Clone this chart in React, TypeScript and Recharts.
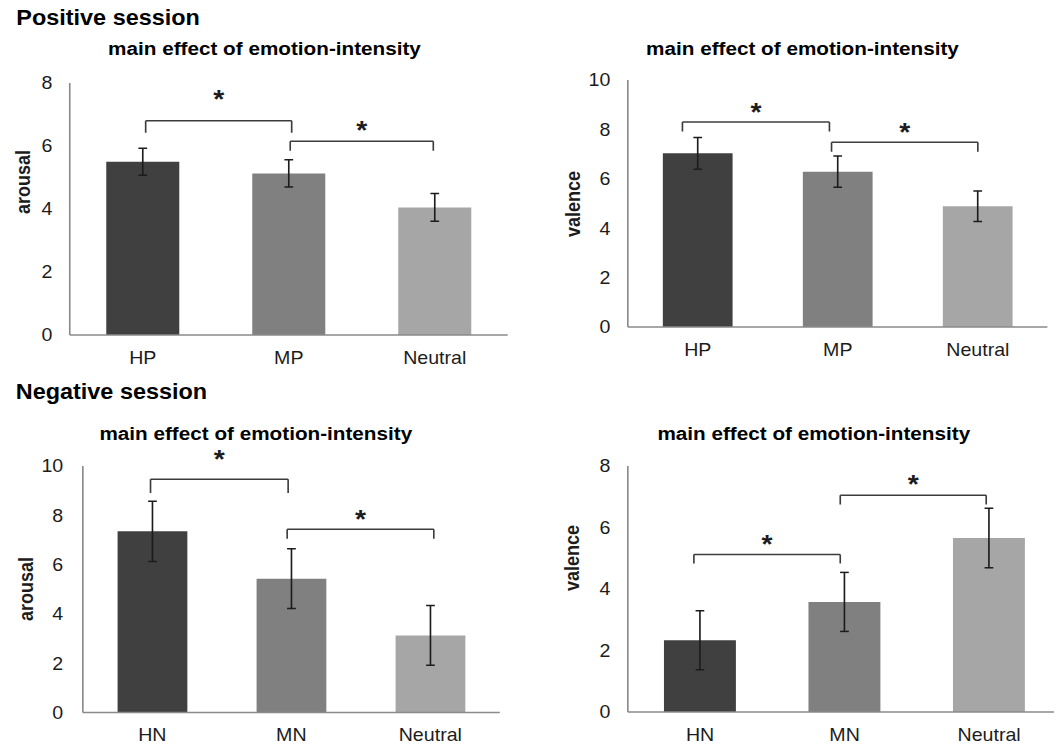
import { BarChart, Bar, XAxis, YAxis, ErrorBar, Cell, ReferenceLine, ReferenceDot } from 'recharts'

// the source figure is stretched sideways a little, so the page is drawn narrow and scaled
const SX = 1.09
const FONT = '"Liberation Sans", Arial, Helvetica, sans-serif'
const BAR_COLORS = ['#404040', '#808080', '#a6a6a6']
const AXIS_COLOR = '#8a8a8a'
const INK = '#1c1c1c'
const BRACKET_COLOR = '#3c3c3c'

const positiveConditions = ['HP', 'MP', 'Neutral']
const negativeConditions = ['HN', 'MN', 'Neutral']

const posArousalMean = [5.5, 5.13, 4.05]
const posArousalErr = [0.43, 0.43, 0.44]
const posValenceMean = [7.03, 6.29, 4.89]
const posValenceErr = [0.64, 0.63, 0.62]
const negArousalMean = [7.35, 5.43, 3.13]
const negArousalErr = [1.22, 1.21, 1.21]
const negValenceMean = [2.33, 3.58, 5.66]
const negValenceErr = [0.96, 0.96, 0.97]

const ticksTo8 = [0, 2, 4, 6, 8]
const ticksTo10 = [0, 2, 4, 6, 8, 10]

// significance brackets: from/to on a 0..3 category scale, top/foot/star in data units
type Bracket = { from: number; to: number; top: number; foot: number; star: number }

const posArousalBrackets: Bracket[] = [
  { from: 0.52, to: 1.52, top: 6.8, foot: 6.42, star: 7.67 },
  { from: 1.51, to: 2.49, top: 6.15, foot: 5.85, star: 6.67 },
]
const posValenceBrackets: Bracket[] = [
  { from: 0.39, to: 1.44, top: 8.3, foot: 7.91, star: 8.92 },
  { from: 1.455, to: 2.5, top: 7.48, foot: 7.1, star: 8.11 },
]
const negArousalBrackets: Bracket[] = [
  { from: 0.487, to: 1.477, top: 9.46, foot: 8.9, star: 10.5 },
  { from: 1.47, to: 2.525, top: 7.43, foot: 7.05, star: 8.07 },
]
const negValenceBrackets: Bracket[] = [
  { from: 0.457, to: 1.47, top: 5.12, foot: 4.83, star: 5.64 },
  { from: 1.47, to: 2.48, top: 7.05, foot: 6.75, star: 7.59 },
]

const Y_W = 40
const M_TOP = 40
const X_H = 40

type Box = { left: number; right: number; top: number; bottom: number }

interface PanelProps {
  names: string[]
  means: number[]
  errs: number[]
  ticks: number[]
  brackets: Bracket[]
  box: Box
  tickGap: number
}

function Star(props: any) {
  return (
    <text x={props.cx} y={props.cy + 14.5} textAnchor="middle" fontSize={26} fontWeight="bold" fill={INK}>
      *
    </text>
  )
}

function Panel({ names, means, errs, ticks, brackets, box, tickGap }: PanelProps) {
  // pos = centre of each category on the 0..3 scale used by the brackets
  const data = names.map((name, i) => ({ name, value: means[i], err: errs[i], pos: i + 0.5 }))
  const plotW = (box.right - box.left) / SX
  const plotH = box.bottom - box.top
  const max = ticks[ticks.length - 1]

  return (
    <div style={{ position: 'absolute', left: box.left / SX - Y_W, top: box.top - M_TOP }}>
      <BarChart
        width={Y_W + plotW}
        height={M_TOP + plotH + X_H}
        data={data}
        margin={{ top: M_TOP, right: 0, bottom: 0, left: 0 }}
        barCategoryGap="25%"
      >
        <XAxis
          dataKey="name"
          height={X_H}
          interval={0}
          axisLine={{ stroke: AXIS_COLOR, strokeWidth: 1.5 }}
          tickLine={false}
          tickSize={0}
          tickMargin={16}
          tick={{ fill: INK, fontSize: 18 }}
        />
        <XAxis xAxisId="pos" dataKey="pos" type="number" domain={[0, 3]} allowDataOverflow hide />
        <YAxis
          width={Y_W}
          domain={[0, max]}
          ticks={ticks}
          interval={0}
          allowDataOverflow
          axisLine={{ stroke: AXIS_COLOR, strokeWidth: 1.5 }}
          tickLine={false}
          tickSize={0}
          tickMargin={tickGap}
          tick={{ fill: INK, fontSize: 18 }}
        />
        <Bar dataKey="value" isAnimationActive={false}>
          {data.map((d, i) => (
            <Cell key={d.name} fill={BAR_COLORS[i]} />
          ))}
          <ErrorBar dataKey="err" direction="y" width={4} stroke={INK} strokeWidth={1.5} isAnimationActive={false} />
        </Bar>
        {brackets.map((b, i) => [
          <ReferenceLine
            key={`h${i}`}
            xAxisId="pos"
            ifOverflow="visible"
            segment={[{ x: b.from, y: b.top }, { x: b.to, y: b.top }]}
            stroke={BRACKET_COLOR}
            strokeWidth={1.5}
          />,
          <ReferenceLine
            key={`l${i}`}
            xAxisId="pos"
            ifOverflow="visible"
            segment={[{ x: b.from, y: b.foot }, { x: b.from, y: b.top }]}
            stroke={BRACKET_COLOR}
            strokeWidth={1.5}
          />,
          <ReferenceLine
            key={`r${i}`}
            xAxisId="pos"
            ifOverflow="visible"
            segment={[{ x: b.to, y: b.foot }, { x: b.to, y: b.top }]}
            stroke={BRACKET_COLOR}
            strokeWidth={1.5}
          />,
          <ReferenceDot
            key={`s${i}`}
            xAxisId="pos"
            ifOverflow="visible"
            x={(b.from + b.to) / 2}
            y={b.star}
            r={0}
            shape={Star}
          />,
        ])}
      </BarChart>
    </div>
  )
}

function YTitle({ x, y, text }: { x: number; y: number; text: string }) {
  return (
    <text x={x} y={y} transform={`rotate(-90 ${x} ${y})`} textAnchor="middle" fontSize={18} fontWeight="bold" fill={INK}>
      {text}
    </text>
  )
}

export default function App() {
  const subtitle = 'main effect of emotion-intensity'
  return (
    <div
      style={{
        position: 'fixed',
        left: 0,
        top: 0,
        width: 1054,
        height: 748,
        overflow: 'hidden',
        background: '#fff',
        fontFamily: FONT,
      }}
    >
      <div
        style={{
          position: 'absolute',
          left: 0,
          top: 0,
          width: 1054 / SX,
          height: 748,
          transform: `scaleX(${SX})`,
          transformOrigin: '0 0',
        }}
      >
        <Panel
          names={positiveConditions}
          means={posArousalMean}
          errs={posArousalErr}
          ticks={ticksTo8}
          brackets={posArousalBrackets}
          box={{ left: 70, right: 508, top: 83, bottom: 335 }}
          tickGap={16}
        />
        <Panel
          names={positiveConditions}
          means={posValenceMean}
          errs={posValenceErr}
          ticks={ticksTo10}
          brackets={posValenceBrackets}
          box={{ left: 628, right: 1048, top: 80, bottom: 327 }}
          tickGap={16}
        />
        <Panel
          names={negativeConditions}
          means={negArousalMean}
          errs={negArousalErr}
          ticks={ticksTo10}
          brackets={negArousalBrackets}
          box={{ left: 83, right: 500, top: 465.7, bottom: 712.3 }}
          tickGap={18}
        />
        <Panel
          names={negativeConditions}
          means={negValenceMean}
          errs={negValenceErr}
          ticks={ticksTo8}
          brackets={negValenceBrackets}
          box={{ left: 627.3, right: 1060.8, top: 465.7, bottom: 711.7 }}
          tickGap={16}
        />
        <svg
          width={1054 / SX}
          height={748}
          style={{ position: 'absolute', left: 0, top: 0, pointerEvents: 'none' }}
        >
          <text x={15} y={25} fontSize={21.5} fontWeight="bold" fill="#000">
            Positive session
          </text>
          <text x={14.5} y={399.5} fontSize={21.5} fontWeight="bold" fill="#000">
            Negative session
          </text>
          <text x={264.5 / SX} y={55.5} textAnchor="middle" fontSize={19} fontWeight="bold" fill="#000">
            {subtitle}
          </text>
          <text x={802.5 / SX} y={55.5} textAnchor="middle" fontSize={19} fontWeight="bold" fill="#000">
            {subtitle}
          </text>
          <text x={255.8 / SX} y={440.5} textAnchor="middle" fontSize={19} fontWeight="bold" fill="#000">
            {subtitle}
          </text>
          <text x={813.8 / SX} y={440.5} textAnchor="middle" fontSize={19} fontWeight="bold" fill="#000">
            {subtitle}
          </text>
          <YTitle x={30 / SX} y={182} text="arousal" />
          <YTitle x={580 / SX} y={204} text="valence" />
          <YTitle x={33.3 / SX} y={589} text="arousal" />
          <YTitle x={579.3 / SX} y={558} text="valence" />
        </svg>
      </div>
    </div>
  )
}
